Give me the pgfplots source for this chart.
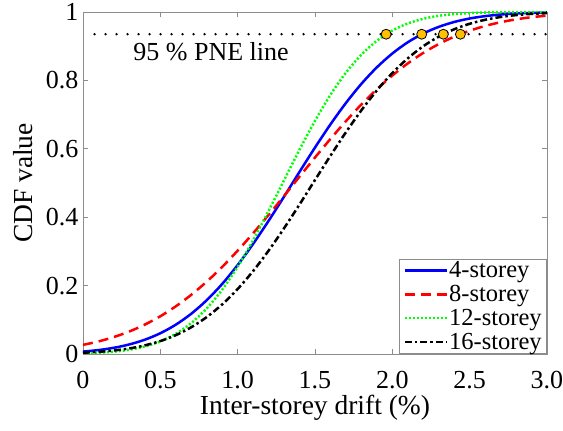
\documentclass[border=0pt]{standalone}
\usepackage{pgfplots}
\pgfplotsset{compat=1.18}
\usepackage{fontspec}
\setmainfont{Liberation Serif}
\definecolor{mk}{RGB}{255,192,0}
\newcommand{\tl}[1]{\mbox{\fontsize{26}{30}\selectfont #1}}
\begin{document}
\begin{tikzpicture}
\begin{axis}[name=ax,
  scale only axis, width=464pt, height=342pt,
  xmin=0, xmax=3, ymin=0, ymax=1,
  axis line style={black!45, line width=0.6pt},
  tick style={black!45, line width=0.6pt},
  major tick length=5pt,
  tick align=inside,
  /pgf/number format/assume math mode=true,
  xtick={0,0.5,1,1.5,2,2.5,3},
  xticklabels={\tl{0},\tl{0.5},\tl{1.0},\tl{1.5},\tl{2.0},\tl{2.5},\tl{3.0}},
  ytick={0,0.2,0.4,0.6,0.8,1},
  yticklabels={\tl{0},\tl{0.2},\tl{0.4},\tl{0.6},\tl{0.8},\tl{1}},
  tick label style={font=\fontsize{26}{30}\selectfont, black},
  xticklabel style={anchor=base, yshift=-35pt},
  yticklabel style={anchor=east, xshift=-1pt},
  label style={font=\fontsize{27.5}{32}\selectfont},
  xlabel={Inter-storey drift (\%)},
  ylabel={CDF value},
  xlabel style={at={(axis description cs:0.5,-0.178)}, anchor=base},
  ylabel style={at={(axis description cs:-0.13,0.5)}, anchor=center, rotate=0},
  legend style={at={(1,0)}, anchor=south east, draw=black!45, line width=0.6pt,
    font=\fontsize{24.5}{27}\selectfont, inner xsep=4pt, inner ysep=2pt, row sep=4pt,
    cells={anchor=west}, nodes={inner sep=1pt}},
  legend image code/.code={\draw[#1] (0cm,0cm) -- (42pt,0cm);},
]
\addplot[blue, line width=2.5pt, smooth] coordinates {
(0,0.0071)(0.1,0.0115)(0.2,0.0182)(0.3,0.0280)(0.4,0.0418)(0.5,0.0607)(0.6,0.0857)(0.7,0.1177)(0.8,0.1574)(0.9,0.2049)(1.0,0.2601)(1.1,0.3220)(1.2,0.3894)(1.3,0.4602)(1.4,0.5327)(1.5,0.6037)(1.6,0.6715)(1.7,0.7340)(1.8,0.7899)(1.9,0.8382)(2.0,0.8786)(2.1,0.9115)(2.2,0.9371)(2.3,0.9565)(2.4,0.9708)(2.5,0.9810)(2.6,0.9879)(2.7,0.9926)(2.8,0.9956)(2.9,0.9974)(3.0,0.9986)};
\addlegendentry{4-storey}
\addplot[red, line width=2.5pt, dash pattern=on 10pt off 6pt, smooth] coordinates {
(0,0.0267)(0.1,0.0367)(0.2,0.0497)(0.3,0.0659)(0.4,0.0860)(0.5,0.1103)(0.6,0.1394)(0.7,0.1731)(0.8,0.2116)(0.9,0.2547)(1.0,0.3022)(1.1,0.3531)(1.2,0.4067)(1.3,0.4622)(1.4,0.5187)(1.5,0.5745)(1.6,0.6289)(1.7,0.6809)(1.8,0.7297)(1.9,0.7742)(2.0,0.8143)(2.1,0.8497)(2.2,0.8804)(2.3,0.9062)(2.4,0.9278)(2.5,0.9452)(2.6,0.9592)(2.7,0.9701)(2.8,0.9785)(2.9,0.9848)(3.0,0.9894)};
\addlegendentry{8-storey}
\addplot[green, line width=2.5pt, dash pattern=on 2pt off 2pt, smooth] coordinates {
(0,0.0017)(0.1,0.0035)(0.2,0.0068)(0.3,0.0125)(0.4,0.0219)(0.5,0.0367)(0.6,0.0590)(0.7,0.0906)(0.8,0.1333)(0.9,0.1881)(1.0,0.2552)(1.1,0.3329)(1.2,0.4184)(1.3,0.5081)(1.4,0.5974)(1.5,0.6818)(1.6,0.7578)(1.7,0.8226)(1.8,0.8753)(1.9,0.9159)(2.0,0.9457)(2.1,0.9664)(2.2,0.9801)(2.3,0.9888)(2.4,0.9939)(2.5,0.9969)(2.6,0.9985)(2.7,0.9993)(2.8,0.9997)(2.9,0.9999)(3.0,1.0)};
\addlegendentry{12-storey}
\addplot[black, line width=2.5pt, dash pattern=on 7pt off 3pt on 2.5pt off 3pt, smooth] coordinates {
(0,0.0037)(0.1,0.0063)(0.2,0.0103)(0.3,0.0163)(0.4,0.0252)(0.5,0.0378)(0.6,0.0551)(0.7,0.0782)(0.8,0.1080)(0.9,0.1451)(1.0,0.1900)(1.1,0.2426)(1.2,0.3022)(1.3,0.3677)(1.4,0.4372)(1.5,0.5088)(1.6,0.5797)(1.7,0.6484)(1.8,0.7126)(1.9,0.7707)(2.0,0.8215)(2.1,0.8645)(2.2,0.8999)(2.3,0.9279)(2.4,0.9495)(2.5,0.9656)(2.6,0.9772)(2.7,0.9854)(2.8,0.9909)(2.9,0.9945)(3.0,0.9967)};
\addlegendentry{16-storey}
\addplot[black, line width=2.7pt, line cap=round, dash pattern=on 0pt off 11pt, forget plot] coordinates {(0.075,0.935)(3.0,0.935)};
\addplot[only marks, mark=*, mark size=5pt, mark options={fill=mk, draw=black, line width=0.8pt}, forget plot] coordinates {(1.96,0.935)(2.19,0.935)(2.33,0.935)(2.44,0.935)};
\node[font=\fontsize{26}{30}\selectfont, anchor=base] at (axis cs:0.828,0.857) {95 \% PNE line};
\end{axis}
\pgfresetboundingbox
\path (ax.south west) ++(-83pt,-77pt) rectangle ([shift={(16pt,12pt)}]ax.north east);
\end{tikzpicture}
\end{document}
